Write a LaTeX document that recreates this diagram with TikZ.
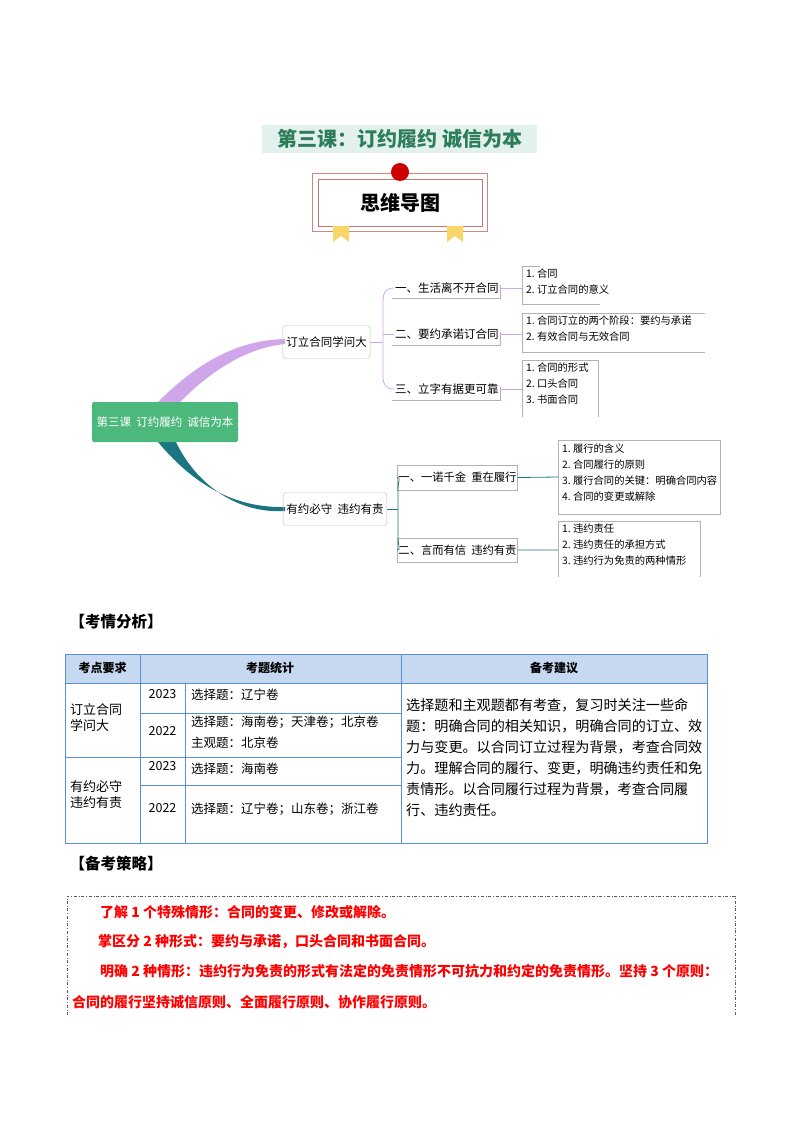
\documentclass[tikz,border=0pt]{standalone}
\usepackage{fontspec}
\setmainfont{Noto Sans CJK SC}
\definecolor{tgreen}{HTML}{2E7D5A}
\definecolor{tbg}{HTML}{E2F1EE}
\definecolor{rootg}{HTML}{4DB87C}
\definecolor{purp}{HTML}{CFA6EA}
\definecolor{teal2}{HTML}{1B7580}
\definecolor{tblue}{HTML}{5B8ED6}
\definecolor{thead}{HTML}{C6D9F1}
\definecolor{bred}{HTML}{C0504D}
\definecolor{ribbon}{HTML}{FAD56A}
\tikzset{
  lbl/.style={font=\fontsize{11.5}{12}\selectfont, inner sep=1pt, anchor=west},
  leaf/.style={font=\fontsize{10.3}{16}\selectfont, align=left, inner sep=2pt, anchor=north west},
  tx/.style={font=\fontsize{12.5}{14}\selectfont, inner sep=0pt},
  red/.style={font=\bfseries\fontsize{14}{14}\selectfont, text=red, anchor=west, inner sep=0pt},
}
\begin{document}
\begin{tikzpicture}[x=1pt,y=-1pt]
\useasboundingbox (0,0) rectangle (800,1132);
% title
\fill[tbg] (262,125) rectangle (537,153);
\node[font=\bfseries\fontsize{20}{22}\selectfont, text=tgreen] (title) at (400,139) {第三课：订约履约 诚信为本};
\draw[bred!70, line width=1pt] (312,173) rectangle (487,231);
\draw[bred!80, line width=0.8pt] (318,179) rectangle (482,226);
\fill[ribbon] (333,226) -- (349,226) -- (349,242) -- (341,236) -- (333,242) -- cycle;
\fill[ribbon] (447,226) -- (463,226) -- (463,242) -- (455,236) -- (447,242) -- cycle;
\fill[red!80!black] (400,172) circle (9);
\node[font=\bfseries\fontsize{20}{22}\selectfont] (swdt) at (400,203) {思维导图};
% mind map
\fill[purp] (158,402) .. controls (200,360) and (240,340) .. (285,339) -- (285,344) .. controls (245,348) and (210,372) .. (180,402) -- cycle;
\fill[teal2] (158,442) .. controls (198,490) and (240,508) .. (285,507) -- (285,511) .. controls (235,514) and (195,482) .. (176,442) -- cycle;
\node[fill=rootg, rounded corners=2pt, minimum width=146pt, minimum height=40pt, text=white, font=\fontsize{11.5}{12}\selectfont] (root) at (165,422) {第三课\ \ 订约履约\ \ 诚信为本};
\node[draw=gray!50, rounded corners=3pt, minimum width=83pt, minimum height=33pt, font=\fontsize{11.5}{12}\selectfont] (b1) at (326.5,342) {订立合同学问大};
\node[draw=gray!50, rounded corners=3pt, minimum width=100pt, minimum height=33pt, font=\fontsize{11.5}{12}\selectfont] (b2) at (335,509) {有约必守\ \ 违约有责};
% branch1 subs
\node[lbl] (s1) at (394,288) {一、生活离不开合同};
\node[lbl] (s2) at (394,334) {二、要约承诺订合同};
\node[lbl] (s3) at (394,389) {三、立字有据更可靠};
\foreach \y in {298,345,400} \draw[gray!60] (392,\y) -- (500,\y) -- (500,\y-13);
\draw[purp, line width=0.8pt] (b1.east) -- (383,342);
\draw[purp, line width=0.8pt] (394,288) .. controls (386,288) and (383,292) .. (383,302) -- (383,376) .. controls (383,385) and (386,389) .. (394,389);
\draw[purp, line width=0.8pt] (383,334) -- (394,334);
\draw[purp, line width=0.8pt] (500,288) -- (522,288) (500,334) -- (522,334) (500,389) -- (522,389);
\node[leaf] (l1) at (524,267) {1.\ 合同\\2.\ 订立合同的意义};
\draw[gray!60] (522,266) -- (522,304) -- (600,304);
\draw[gray!60] (522,266) -- (540,266);
\node[leaf] (l2) at (524,314) {1.\ 合同订立的两个阶段：要约与承诺\\2.\ 有效合同与无效合同};
\draw[gray!60] (522,352) -- (522,313) -- (705,313) (522,352) -- (705,352);
\node[leaf] (l3) at (524,361) {1.\ 合同的形式\\2.\ 口头合同\\3.\ 书面合同};
\draw[gray!60] (522,417) -- (522,360) -- (598,360) -- (598,417);
% branch2 subs
\node[draw=gray!60, minimum width=99pt, minimum height=25pt, font=\fontsize{11.3}{12}\selectfont, inner sep=1pt] (t1) at (457.5,477.5) {一、一诺千金\ \ 重在履行};
\node[draw=gray!60, minimum width=99pt, minimum height=24pt, font=\fontsize{11.3}{12}\selectfont, inner sep=1pt] (t2) at (457.5,550) {二、言而有信\ \ 违约有责};
\draw[teal2, line width=0.8pt] (b2.east) -- (398,509);
\draw[teal2, line width=0.8pt] (t1.west) .. controls (401,477) and (398,481) .. (398,490) -- (398,537) .. controls (398,546) and (401,550) .. (t2.west);
\draw[teal2, line width=0.8pt] (t1.east) -- (558,477) (t2.east) -- (558,550);
\node[leaf] (l4) at (560,442) {1.\ 履行的含义\\2.\ 合同履行的原则\\3.\ 履行合同的关键：明确合同内容\\4.\ 合同的变更或解除};
\draw[gray!60] (558,440) rectangle (720,514);
\node[leaf] (l5) at (560,522) {1.\ 违约责任\\2.\ 违约责任的承担方式\\3.\ 违约行为免责的两种情形};
\draw[gray!60] (558,577) -- (558,521) -- (700,521) -- (700,577);
% kaoqing
\node[font=\bfseries\fontsize{15.5}{18}\selectfont, anchor=west] (h1) at (66,622) {【考情分析】};
\fill[thead] (65,654) rectangle (707,683);
\draw[tblue, line width=1pt] (65,654) rectangle (707,843);
\draw[tblue, line width=0.8pt] (65,683) -- (707,683) (140,654) -- (140,843) (401,654) -- (401,843) (185,683) -- (185,843)
  (140,713) -- (401,713) (65,757) -- (401,757) (140,785) -- (401,785);
\node[tx, font=\bfseries\fontsize{12}{14}\selectfont] (c1) at (102.5,668) {考点要求};
\node[tx, font=\bfseries\fontsize{12}{14}\selectfont] (c2) at (270,668) {考题统计};
\node[tx, font=\bfseries\fontsize{12}{14}\selectfont] (c3) at (554,668) {备考建议};
\node[tx, align=left, anchor=west, font=\fontsize{13}{16}\selectfont] (r1) at (70,718) {订立合同\\学问大};
\node[tx, align=left, anchor=west, font=\fontsize{13}{16}\selectfont] (r2) at (70,795) {有约必守\\违约有责};
\node[tx] (y1) at (162.5,694) {2023};
\node[tx] (y2) at (162.5,731) {2022};
\node[tx] (y3) at (162.5,766) {2023};
\node[tx] (y4) at (162.5,808) {2022};
\node[tx, anchor=west] (e1) at (191,695) {选择题：辽宁卷};
\node[tx, anchor=west] (e2) at (191,722) {选择题：海南卷；天津卷；北京卷};
\node[tx, anchor=west] (e3) at (191,743) {主观题：北京卷};
\node[tx, anchor=west] (e4) at (191,769) {选择题：海南卷};
\node[tx, anchor=west] (e5) at (191,809) {选择题：辽宁卷；山东卷；浙江卷};
\node[anchor=north west, align=left, inner sep=0pt, font=\fontsize{14.1}{21}\selectfont] (adv) at (406,698) {选择题和主观题都有考查，复习时关注一些命\\题：明确合同的相关知识，明确合同的订立、效\\力与变更。以合同订立过程为背景，考查合同效\\力。理解合同的履行、变更，明确违约责任和免\\责情形。以合同履行过程为背景，考查合同履\\行、违约责任。};
% beikao
\node[font=\bfseries\fontsize{15.5}{18}\selectfont, anchor=west] (h2) at (66,864) {【备考策略】};
\draw[gray!70!black, dash dot, line width=0.8pt] (67,1015) -- (67,896) -- (735,896) -- (735,1015);
\node[red] (p1) at (100,912) {了解 1 个特殊情形：合同的变更、修改或解除。};
\node[red] (p2) at (98,942) {掌区分 2 种形式：要约与承诺，口头合同和书面合同。};
\node[red] (p3) at (100,971) {明确 2 种情形：违约行为免责的形式有法定的免责情形不可抗力和约定的免责情形。坚持 3 个原则：};
\node[red] (p4) at (72,1002) {合同的履行坚持诚信原则、全面履行原则、协作履行原则。};
\end{tikzpicture}
\end{document}
